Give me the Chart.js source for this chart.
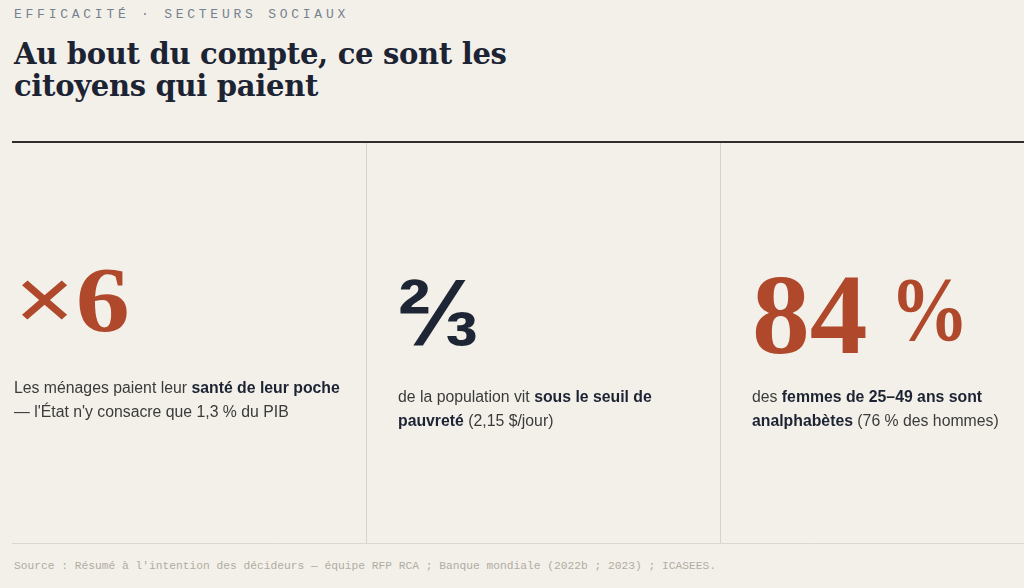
<!DOCTYPE html>
<html lang="fr">
<head>
<meta charset="utf-8">
<title>Au bout du compte, ce sont les citoyens qui paient</title>
<script src="https://cdn.jsdelivr.net/npm/chart.js@4.4.1/dist/chart.umd.min.js"></script>
<style>
  html, body {
    margin: 0;
    padding: 0;
    width: 1024px;
    height: 588px;
    overflow: hidden;
    background: #f3f0e9;
  }
  body { position: relative; }
  .eyebrow {
    position: absolute;
    left: 14px;
    top: 8px;
    font: 13px/13px "Liberation Mono", "DejaVu Sans Mono", monospace;
    letter-spacing: 3.75px;
    color: #76818f;
    white-space: nowrap;
  }
  h1 {
    position: absolute;
    left: 14px;
    top: 38px;
    margin: 0;
    font: bold 29px/32px "DejaVu Serif", "Liberation Serif", serif;
    letter-spacing: -0.3px;
    color: #1c2333;
    white-space: nowrap;
  }
  #frame {
    position: absolute;
    left: 12px;
    top: 138px;
    width: 1062px;
    height: 409px;
  }
  .stat { position: absolute; left: 0; top: 0; }
  .num {
    position: absolute;
    white-space: nowrap;
    transform-origin: 0 0;
  }
  .rust { color: #b0492b; }
  .ink { color: #1e2535; }
  .cap {
    position: absolute;
    font: 15.8px/24px "Liberation Sans", Arial, sans-serif;
    color: #3b3b3b;
    white-space: pre;
  }
  .cap b { color: #1c2333; }
  .source {
    position: absolute;
    left: 14px;
    top: 559px;
    font: 11.25px/14px "Liberation Mono", "DejaVu Sans Mono", monospace;
    color: #b1aca3;
    white-space: nowrap;
  }
</style>
</head>
<body>
<div class="eyebrow" id="eyebrow"></div>
<h1 id="title"></h1>
<div id="frame"><canvas id="frameChart"></canvas></div>
<div id="stats"></div>
<div class="source" id="source"></div>
<script>
const eyebrowText = 'EFFICACITÉ · SECTEURS SOCIAUX';
const titleLines = ['Au bout du compte, ce sont les', 'citoyens qui paient'];
const statValues = ['×6', '⅔', '84 %'];
const statCaptions = [
  'Les ménages paient leur **santé de leur poche**\n— l\'État n\'y consacre que 1,3 % du PIB',
  'de la population vit **sous le seuil de**\n**pauvreté** (2,15 $/jour)',
  'des **femmes de 25–49 ans sont**\n**analphabètes** (76 % des hommes)'
];
const sourceText = 'Source : Résumé à l\'intention des décideurs — équipe RFP RCA ; Banque mondiale (2022b ; 2023) ; ICASEES.';

// layout of each card: glyph boxes for the big figure, caption origin
const serif = '"Liberation Serif", "DejaVu Serif", serif';
const sans = '"Liberation Sans", "DejaVu Sans", sans-serif';
const cardLayout = [
  { cls: 'rust', family: serif, box: [22, 268, 128, 332], cap: [14, 376] },
  { cls: 'ink', family: sans, box: [400, 280, 476, 347], cap: [398, 385] },
  { cls: 'rust', family: serif, box: [755, 278, 866, 356], unitBox: [898, 280, 962, 342], cap: [752, 385] }
];

document.getElementById('eyebrow').textContent = eyebrowText;
document.getElementById('title').innerHTML = titleLines.join('<br>');
document.getElementById('source').textContent = sourceText;

function esc(s) {
  return s.replace(/&/g, '&amp;').replace(/</g, '&lt;').replace(/>/g, '&gt;');
}

const measureCtx = document.createElement('canvas').getContext('2d');

// size and place a text element so its ink fills box [left, top, right, bottom]
function fitText(el, text, family, box) {
  measureCtx.font = 'bold 100px ' + family;
  const m = measureCtx.measureText(text);
  const inkH = m.actualBoundingBoxAscent + m.actualBoundingBoxDescent;
  const k = (box[3] - box[1]) / inkH;
  const size = 100 * k;
  const inkW = (m.actualBoundingBoxLeft + m.actualBoundingBoxRight) * k;
  const sx = (box[2] - box[0]) / inkW;
  const baseline = box[1] + m.actualBoundingBoxAscent * k;
  const fa = m.fontBoundingBoxAscent * k;
  const fd = m.fontBoundingBoxDescent * k;
  el.textContent = text;
  el.style.font = 'bold ' + size + 'px/0 ' + family;
  el.style.top = (baseline - (fa - fd) / 2) + 'px';
  el.style.left = (box[0] + m.actualBoundingBoxLeft * k * sx) + 'px';
  el.style.transform = 'scaleX(' + sx + ')';
}

const statsEl = document.getElementById('stats');
statValues.forEach((v, i) => {
  const lay = cardLayout[i];
  const card = document.createElement('div');
  card.className = 'stat';
  const parts = v.match(/^(.*?)(?: ?(%))?$/);
  const num = document.createElement('div');
  num.className = 'num ' + lay.cls;
  card.appendChild(num);
  fitText(num, parts[1], lay.family, lay.box);
  if (parts[2]) {
    const unit = document.createElement('div');
    unit.className = 'num ' + lay.cls;
    card.appendChild(unit);
    fitText(unit, parts[2], lay.family, lay.unitBox);
  }
  const cap = document.createElement('div');
  cap.className = 'cap';
  cap.style.left = lay.cap[0] + 'px';
  cap.style.top = lay.cap[1] + 'px';
  cap.innerHTML = esc(statCaptions[i]).replace(/\*\*(.+?)\*\*/g, '<b>$1</b>');
  card.appendChild(cap);
  statsEl.appendChild(card);
});

// frame: top rule, column dividers and bottom rule come from the scale grids
const ctx = document.getElementById('frameChart').getContext('2d');
new Chart(ctx, {
  type: 'scatter',
  data: {
    labels: statValues,
    datasets: [{ data: [] }]
  },
  options: {
    responsive: true,
    maintainAspectRatio: false,
    animation: false,
    events: [],
    layout: { padding: { top: 4, bottom: 4, left: 0, right: 0 } },
    plugins: { legend: { display: false }, tooltip: { enabled: false } },
    scales: {
      x: {
        type: 'linear',
        min: 0,
        max: statValues.length,
        ticks: { display: false, stepSize: 1 },
        border: { display: false },
        grid: {
          drawTicks: false,
          lineWidth: 1,
          color: c => (c.tick && c.tick.value > 0 ? '#d6d2ca' : 'rgba(0,0,0,0)')
        }
      },
      y: {
        min: 0,
        max: 1,
        ticks: { display: false, stepSize: 1 },
        border: { display: false },
        grid: {
          drawTicks: false,
          lineWidth: c => (c.tick && c.tick.value === 1 ? 2 : 1),
          color: c => (c.tick && c.tick.value === 1 ? '#2e2e2e' : '#dcd8d0')
        }
      }
    }
  }
});
</script>
</body>
</html>
